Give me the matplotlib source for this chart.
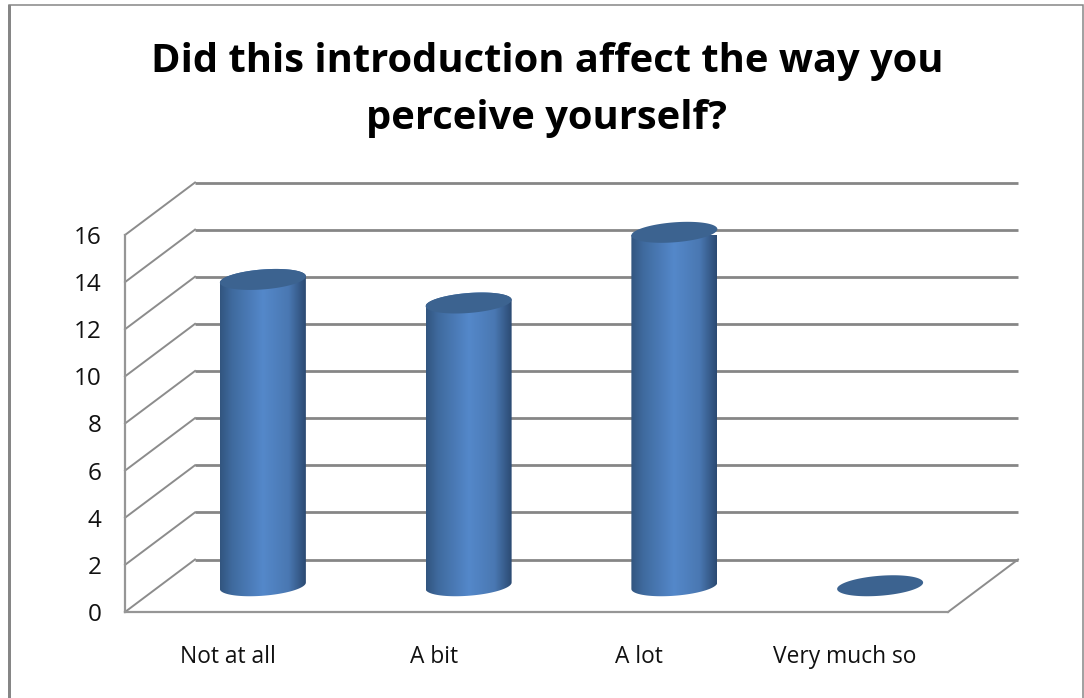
import numpy as np
import matplotlib
matplotlib.use("Agg")
import matplotlib.pyplot as plt
from matplotlib.colors import LinearSegmentedColormap
from matplotlib.patches import Polygon, Rectangle

title = "Did this introduction affect the way you\nperceive yourself?"
categories = ["Not at all", "A bit", "A lot", "Very much so"]
values = [13, 12, 15, 0]
y_ticks = [0, 2, 4, 6, 8, 10, 12, 14, 16]

W, H = 1084, 698
GRID = "#868686"
TOP = "#3c6390"
plt.rcParams["font.family"] = ["Open Sans", "DejaVu Sans"]

fig = plt.figure(figsize=(W / 100, H / 100), dpi=100, facecolor="white")
L, R, T, B = 125, 948, 235, 612
ax = fig.add_axes([L / W, 1 - B / H, (R - L) / W, (B - T) / H])
ax.patch.set_alpha(0)
ax.set_xlim(-0.5, 3.5)
ax.set_ylim(0, 16)
px_x = (R - L) / 4
px_y = (B - T) / 16
dx, dy = 70 / px_x, 52.5 / px_y

# walls
for v in y_ticks:
    ax.plot([-0.5, -0.5 + dx], [v, v + dy], color="#8c8c8c", lw=1.4, clip_on=False, zorder=1)
    ax.plot([-0.5 + dx, 3.5 + dx], [v + dy, v + dy], color=GRID, lw=2.0, clip_on=False,
            zorder=1, solid_capstyle="butt")
ax.plot([3.5, 3.5 + dx], [0, dy], color="#8c8c8c", lw=1.4, clip_on=False, zorder=1)

for s in ["top", "right"]:
    ax.spines[s].set_visible(False)
for s in ["left", "bottom"]:
    ax.spines[s].set_color("#969696")
    ax.spines[s].set_linewidth(1.6)
ax.set_xticks(range(len(categories)), categories)
ax.set_yticks(y_ticks)
ax.tick_params(axis="x", length=0, pad=24, labelsize=16.4, labelcolor="#111111")
ax.tick_params(axis="y", length=0, pad=17, labelsize=17.5, labelcolor="#111111")

# cylinders
cmap = LinearSegmentedColormap.from_list(
    "cyl", [(0, "#32557f"), (0.14, "#3f6a9e"), (0.5, "#5488ca"), (0.8, "#4a78b2"), (1, "#2b4a72")])
grad = np.linspace(0, 1, 256).reshape(1, -1)
a = 43 / px_x
b = 10 / px_y
k = 3.2 / px_y
t = np.linspace(0, 2 * np.pi, 121)


def rim(cx, cy, ts):
    return np.column_stack([cx + a * np.cos(ts), cy + b * np.sin(ts) + k * np.cos(ts)])


for i, v in enumerate(values):
    cx, base = i + dx / 2, dy / 2
    top = base + v
    if v > 0:
        low = rim(cx, base, np.linspace(np.pi, 2 * np.pi, 60))
        up = rim(cx, top, np.linspace(0, np.pi, 60))
        clip = Polygon(np.vstack([low, up]), closed=True, transform=ax.transData,
                       fc="none", ec="none")
        ax.add_patch(clip)
        im = ax.imshow(grad, cmap=cmap, aspect="auto", zorder=3,
                       extent=[cx - a, cx + a, base - 2 * b, top + 2 * b])
        im.set_clip_path(clip)
    ax.add_patch(Polygon(rim(cx, top, t), closed=True, fc=TOP, ec="none", zorder=4, clip_on=False))
ax.set_xlim(-0.5, 3.5)
ax.set_ylim(0, 16)

fig.text(547 / W, 1 - 90 / H, title, ha="center", va="center", fontsize=28.7, fontweight="bold",
         color="black", linespacing=1.62)

# outer frame
fig.add_artist(Rectangle((8.5 / W, -0.02), (1083 - 8.5) / W, 1 - 5 / H + 0.02,
                         transform=fig.transFigure, fc="none", ec="#868686", lw=1.1))
fig.add_artist(Rectangle((8 / W, -0.02), 3 / W, 1 - 5 / H + 0.02,
                         transform=fig.transFigure, fc="#868686", ec="none"))

fig.savefig("out.png", dpi=100)
